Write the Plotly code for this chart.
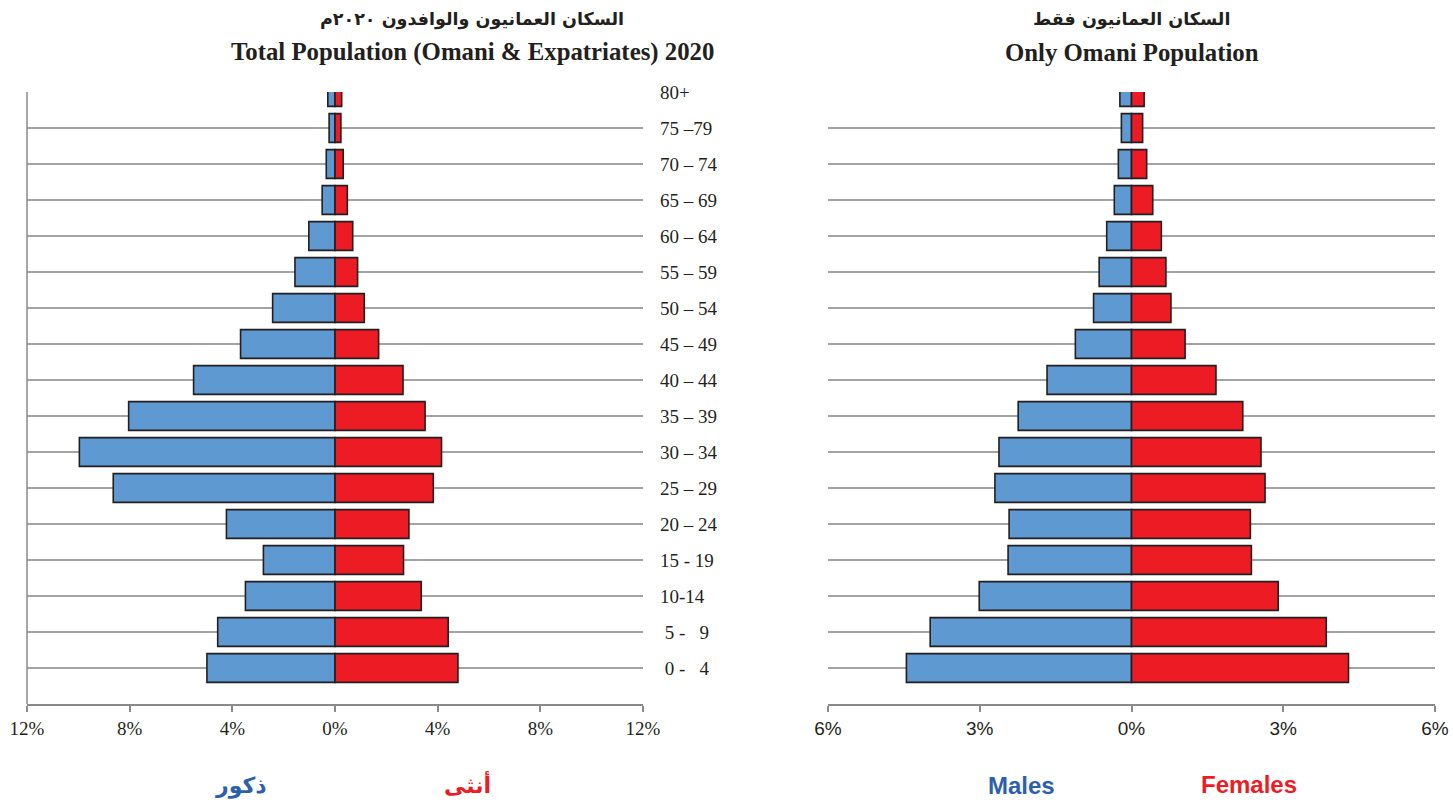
import plotly.graph_objects as go

age_groups = ["0 - 4", "5 - 9", "10-14", "15 - 19", "20 – 24", "25 – 29", "30 – 34",
              "35 – 39", "40 – 44", "45 – 49", "50 – 54", "55 – 59", "60 – 64",
              "65 – 69", "70 – 74", "75 –79", "80+"]
age_labels = ["\u00a00 -\u00a0\u00a0\u00a04", "\u00a05 -\u00a0\u00a0\u00a09", "10-14", "15 - 19",
              "20 – 24", "25 – 29", "30 – 34", "35 – 39", "40 – 44", "45 – 49",
              "50 – 54", "55 – 59", "60 – 64", "65 – 69", "70 – 74", "75 –79", "80+"]

# Total population (Omani & Expatriates) 2020, % of total
total_males = [4.99, 4.57, 3.49, 2.79, 4.23, 8.64, 9.96, 8.04, 5.51, 3.68, 2.43, 1.56,
               1.02, 0.50, 0.34, 0.23, 0.28]
total_females = [4.79, 4.41, 3.36, 2.67, 2.88, 3.83, 4.15, 3.51, 2.65, 1.70, 1.14, 0.88,
                 0.69, 0.48, 0.32, 0.23, 0.26]

# Omani population only, % of total
omani_males = [4.45, 3.98, 3.01, 2.44, 2.42, 2.70, 2.62, 2.24, 1.67, 1.11, 0.75, 0.64,
               0.49, 0.34, 0.26, 0.20, 0.23]
omani_females = [4.29, 3.85, 2.90, 2.37, 2.35, 2.64, 2.56, 2.20, 1.67, 1.06, 0.78, 0.68,
                 0.59, 0.42, 0.30, 0.22, 0.25]

left_ticks = [-12, -8, -4, 0, 4, 8, 12]
left_ticktext = ["12%", "8%", "4%", "0%", "4%", "8%", "12%"]
right_ticks = [-6, -3, 0, 3, 6]
right_ticktext = ["6%", "3%", "0%", "3%", "6%"]

BLUE = "#5E99D2"
RED = "#ED1C24"
EDGE = "#231F20"
GRID = "#A3A3A6"
TXT = "#231F20"

idx = list(range(len(age_groups)))

fig = go.Figure()

def add_bars(males, females, xa, ya):
    fig.add_trace(go.Bar(y=idx, x=[-v for v in males], orientation="h",
                         marker=dict(color=BLUE, line=dict(color=EDGE, width=1.6)),
                         xaxis=xa, yaxis=ya, showlegend=False, name="Males",
                         customdata=age_groups,
                         hovertemplate="%{customdata}: %{x}<extra></extra>"))
    fig.add_trace(go.Bar(y=idx, x=females, orientation="h",
                         marker=dict(color=RED, line=dict(color=EDGE, width=1.6)),
                         xaxis=xa, yaxis=ya, showlegend=False, name="Females",
                         customdata=age_groups,
                         hovertemplate="%{customdata}: %{x}<extra></extra>"))

add_bars(total_males, total_females, "x", "y")
add_bars(omani_males, omani_females, "x2", "y2")

ydom = [1 - 704 / 803, 1 - 92 / 803]
common_x = dict(showgrid=False, zeroline=False, showline=True, linecolor="#8A8A8A",
                linewidth=1.5, ticks="outside", ticklen=6, tickcolor="#8A8A8A",
                tickwidth=1.5, fixedrange=True, automargin=False)

fig.update_layout(
    width=1453, height=803, autosize=False,
    margin=dict(l=0, r=0, t=0, b=0),
    paper_bgcolor="white", plot_bgcolor="white",
    barmode="relative", bargap=0.2,
    xaxis=dict(domain=[27 / 1453, 643 / 1453], range=[-12, 12], tickvals=left_ticks,
               ticktext=left_ticktext, anchor="y",
               tickfont=dict(family="Liberation Serif, Times New Roman, serif", size=19, color=TXT),
               **common_x),
    xaxis2=dict(domain=[828 / 1453, 1435 / 1453], range=[-6, 6], tickvals=right_ticks,
                ticktext=right_ticktext, anchor="y2",
                tickfont=dict(family="Liberation Sans, Arial, sans-serif", size=19, color=TXT),
                **common_x),
    yaxis=dict(domain=ydom, range=[-1, 16], tickvals=idx, ticktext=age_labels,
               side="right", anchor="x", showgrid=True, gridcolor=GRID, gridwidth=1.6,
               zeroline=False, showline=False, ticks="", ticklabelstandoff=16,
               tickfont=dict(family="Liberation Serif, Times New Roman, serif", size=19, color=TXT),
               fixedrange=True, automargin=False),
    yaxis2=dict(domain=ydom, range=[-1, 16], tickvals=idx, showticklabels=False,
                anchor="x2", showgrid=True, gridcolor=GRID, gridwidth=1.6,
                zeroline=False, showline=False, ticks="", fixedrange=True, automargin=False),
)

# left vertical axis line of the first panel
fig.add_shape(type="line", xref="x domain", yref="y domain", x0=0, x1=0, y0=0, y1=1,
              line=dict(color="#8A8A8A", width=1.5), layer="above")

ar_font = "DejaVu Sans, Arial, sans-serif"
en_font = "Liberation Serif, Times New Roman, serif"

def ann(text, x, y, font, size, color=TXT, bold=True):
    fig.add_annotation(text=f"<b>{text}</b>" if bold else text, xref="paper", yref="paper",
                       x=x / 1453, y=1 - y / 803, xanchor="center", yanchor="middle",
                       showarrow=False, font=dict(family=font, size=size, color=color))

ann("السكان العمانيون والوافدون ٢٠٢٠م", 472, 20, ar_font, 17.5)
ann("Total Population (Omani & Expatriates) 2020", 472, 52, en_font, 24.8)
ann("السكان العمانيون فقط", 1131, 20, ar_font, 17.5)
ann("Only Omani Population", 1132, 52, en_font, 24.8)

ann("ذكور", 241, 786, ar_font, 22, color="#2D5FAB")
ann("أنثى", 468, 784, ar_font, 22, color=RED)
ann("Males", 1021, 785, "Liberation Sans, Arial, sans-serif", 24, color="#2D5FAB")
ann("Females", 1249, 784, "Liberation Sans, Arial, sans-serif", 24, color=RED)

fig.write_html("out.html", config={"displayModeBar": False},
               post_script="document.body.style.margin='0';document.body.style.overflow='hidden';")
